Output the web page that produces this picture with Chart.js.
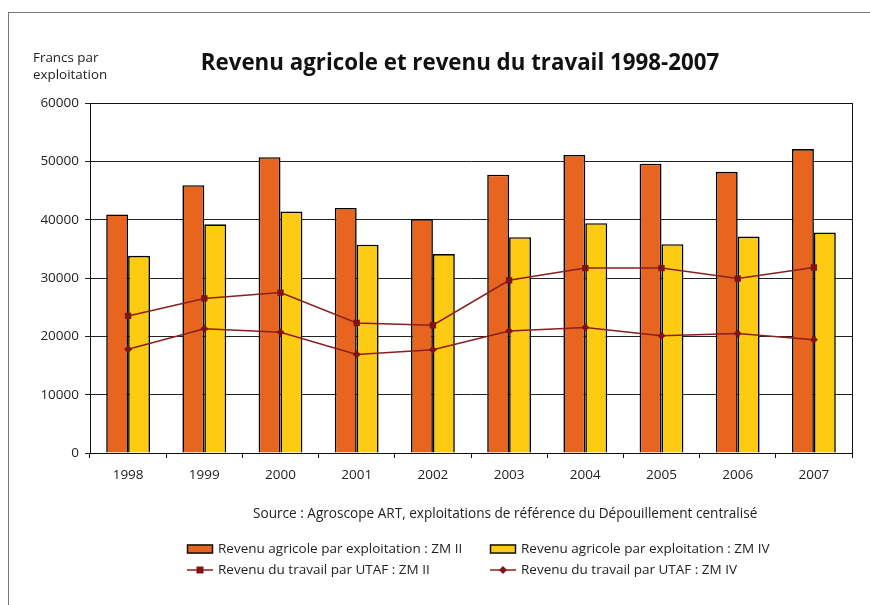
<!DOCTYPE html>
<html>
<head>
<meta charset="utf-8">
<script src="https://cdn.jsdelivr.net/npm/chart.js@4"></script>
<style>
  html, body { margin: 0; padding: 0; background: #fff; }
  #wrap { position: relative; width: 870px; height: 605px; }
  #frame { position: absolute; left: 8px; top: 12px; width: 870px; height: 600px;
           border-left: 1px solid #777; border-top: 1px solid #777; }
  canvas { position: absolute; left: 0; top: 0; }
</style>
</head>
<body>
<div id="wrap">
  <div id="frame"></div>
  <canvas id="myChart" width="870" height="605"></canvas>
</div>
<script>
// data
var years = ['1998', '1999', '2000', '2001', '2002', '2003', '2004', '2005', '2006', '2007'];
var agriZM2 = [40900, 45900, 50700, 42000, 40100, 47700, 51100, 49600, 48200, 52100];
var agriZM4 = [33800, 39200, 41400, 35700, 34100, 37000, 39400, 35800, 37100, 37800];
var travZM2 = [23500, 26500, 27500, 22300, 21900, 29600, 31700, 31700, 29900, 31800];
var travZM4 = [17800, 21300, 20700, 16900, 17700, 20900, 21500, 20100, 20500, 19400];
var yTicks = [0, 10000, 20000, 30000, 40000, 50000, 60000];

var FONT = "'Open Sans', 'DejaVu Sans', sans-serif";
var TXT = '#222';

// extra drawing: frame of the plot, title, axis label, source, legend
var decor = {
    id: 'decor',
    afterDatasetsDraw: function (chart) {
        var ctx = chart.ctx, a = chart.chartArea;
        ctx.save();
        ctx.strokeStyle = '#111';
        ctx.lineWidth = 1;
        ctx.strokeRect(Math.round(a.left) + 0.5, Math.round(a.top) + 0.5,
            Math.round(a.right - a.left), Math.round(a.bottom - a.top));
        ctx.restore();
    },
    afterDraw: function (chart) {
        var ctx = chart.ctx;
        ctx.save();
        ctx.fillStyle = '#111';
        ctx.textBaseline = 'middle';
        ctx.textAlign = 'center';
        ctx.font = 'bold 22.3px ' + FONT;
        ctx.fillText('Revenu agricole et revenu du travail 1998-2007', 460, 64);

        ctx.textAlign = 'left';
        ctx.fillStyle = TXT;
        ctx.font = '13.4px ' + FONT;
        ctx.fillText('Francs par', 33, 58);
        ctx.fillText('exploitation', 33, 75);

        ctx.font = '13.6px ' + FONT;
        ctx.fillText('Source : Agroscope ART, exploitations de référence du Dépouillement centralisé', 253, 514);

        // legend, 2 columns
        var ds = chart.data.datasets;
        var spots = [[187, 549], [490, 549], [187, 570], [490, 570]];
        for (var i = 0; i < ds.length; i++) {
            var x = spots[i][0], y = spots[i][1];
            if (ds[i].type === 'line') {
                ctx.strokeStyle = ds[i].borderColor;
                ctx.lineWidth = 1.5;
                ctx.beginPath();
                ctx.moveTo(x, y);
                ctx.lineTo(x + 26, y);
                ctx.stroke();
                ctx.fillStyle = ds[i].pointBackgroundColor;
                ctx.beginPath();
                if (ds[i].pointStyle === 'rect') {
                    ctx.rect(x + 9.5, y - 3.5, 7, 7);
                } else {
                    ctx.moveTo(x + 13, y - 4); ctx.lineTo(x + 17, y);
                    ctx.lineTo(x + 13, y + 4); ctx.lineTo(x + 9, y);
                    ctx.closePath();
                }
                ctx.fill();
            } else {
                ctx.fillStyle = ds[i].backgroundColor;
                ctx.fillRect(x, y - 4.5, 26, 9);
                ctx.strokeStyle = '#111';
                ctx.lineWidth = 1.5;
                ctx.strokeRect(x + 0.5, y - 4, 25, 8);
            }
            ctx.fillStyle = TXT;
            ctx.font = '13.5px ' + FONT;
            ctx.fillText(ds[i].label, x + 31, y);
        }
        ctx.restore();
    }
};

var ctx = document.getElementById('myChart').getContext('2d');
var myChart = new Chart(ctx, {
    type: 'bar',
    data: {
        labels: years,
        datasets: [{
            label: 'Revenu agricole par exploitation : ZM II',
            data: agriZM2,
            backgroundColor: '#E8651F',
            borderColor: '#000',
            borderWidth: 1.6,
            order: 2
        }, {
            label: 'Revenu agricole par exploitation : ZM IV',
            data: agriZM4,
            backgroundColor: '#FDCB12',
            borderColor: '#000',
            borderWidth: 1.6,
            order: 2
        }, {
            type: 'line',
            label: 'Revenu du travail par UTAF : ZM II',
            data: travZM2,
            borderColor: '#8A1F1F',
            borderWidth: 1.5,
            pointStyle: 'rect',
            pointRadius: 4.5,
            pointBackgroundColor: '#7E1416',
            pointBorderWidth: 0,
            tension: 0,
            order: 1
        }, {
            type: 'line',
            label: 'Revenu du travail par UTAF : ZM IV',
            data: travZM4,
            borderColor: '#8A1F1F',
            borderWidth: 1.5,
            pointStyle: 'rectRot',
            pointRadius: 4,
            pointBackgroundColor: '#7E1416',
            pointBorderWidth: 0,
            tension: 0,
            order: 0
        }]
    },
    options: {
        responsive: false,
        animation: false,
        devicePixelRatio: 1,
        layout: { padding: { top: 103, right: 18, bottom: 0, left: 0 } },
        plugins: {
            legend: { display: false },
            title: { display: false },
            tooltip: { enabled: false }
        },
        datasets: {
            bar: { categoryPercentage: 0.575, barPercentage: 1.0 }
        },
        scales: {
            x: {
                grid: { display: true, drawOnChartArea: false, drawTicks: true, tickLength: 5, color: '#111', offset: true },
                border: { color: '#111' },
                ticks: { color: TXT, font: { family: FONT, size: 13.5 }, padding: 9 },
                afterFit: function (scale) { scale.height = 152; }
            },
            y: {
                min: 0,
                max: 60000,
                afterBuildTicks: function (scale) {
                    scale.ticks = yTicks.map(function (v) { return { value: v }; });
                },
                grid: { color: '#222', lineWidth: 1, tickLength: 5 },
                border: { color: '#111' },
                ticks: {
                    color: TXT, font: { family: FONT, size: 13.5 }, padding: 6,
                    callback: function (v) { return String(v); }
                },
                afterFit: function (scale) { scale.width = 90; }
            }
        }
    },
    plugins: [decor]
});
</script>
</body>
</html>
